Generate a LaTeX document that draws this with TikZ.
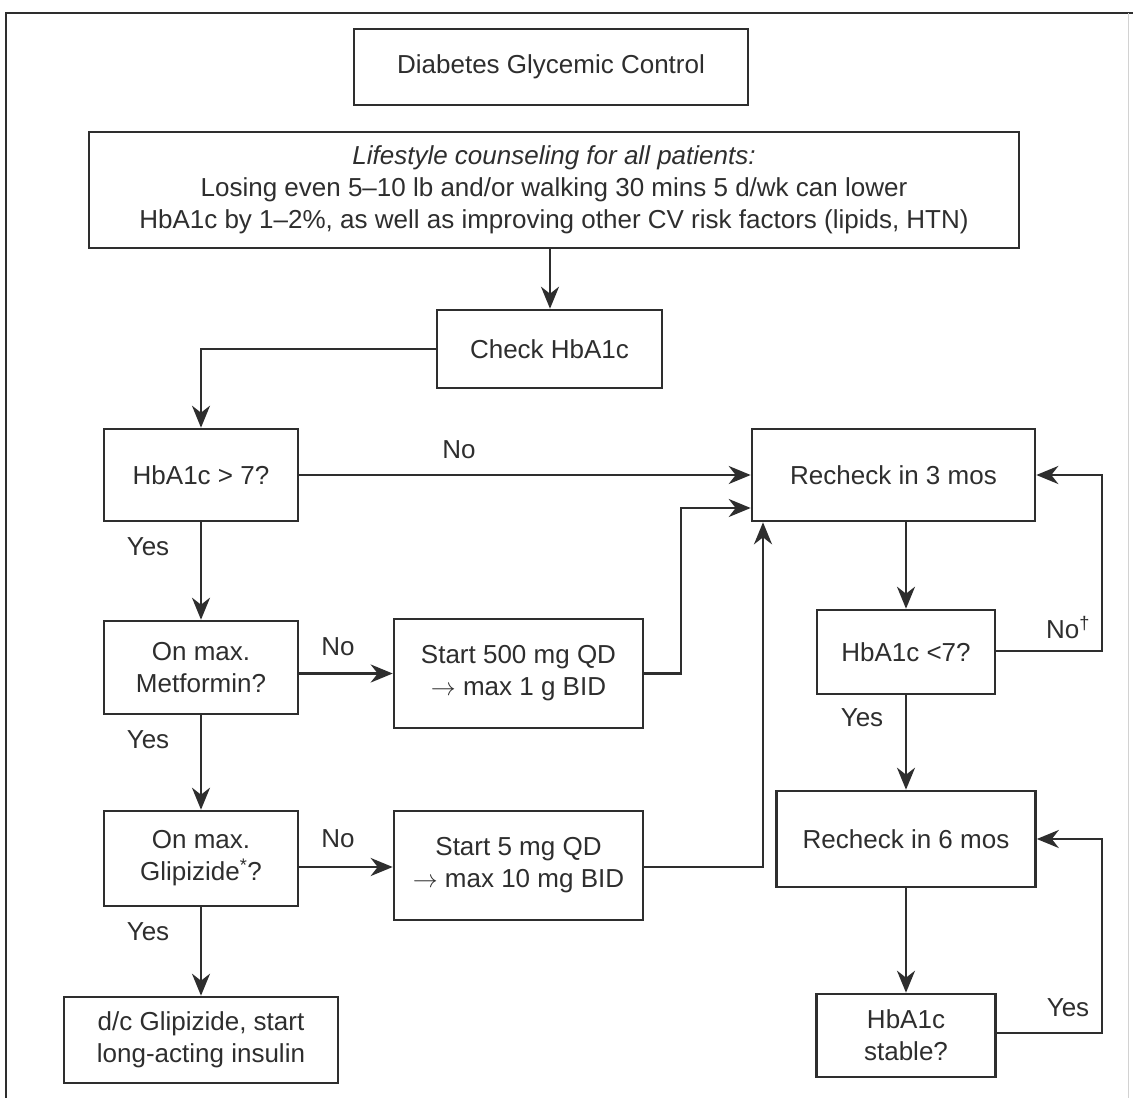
\documentclass[tikz,border=0pt]{standalone}
\usepackage{fontspec}
\setmainfont{Liberation Sans}
\usetikzlibrary{arrows.meta}
\definecolor{ink}{HTML}{2E2E2E}
\begin{document}
\begin{tikzpicture}[x=1pt,y=-1pt,
  every node/.style={font=\fontsize{26}{32}\selectfont, text=ink},
  box/.style={draw=ink, line width=2.6pt, align=center, inner sep=0pt, fill=white},
  arr/.style={draw=ink, line width=2.6pt, line join=miter, -{Stealth[length=22pt,width=18pt,inset=7pt]}},
  lbl/.style={inner sep=0pt}]
\useasboundingbox (0,0) rectangle (1133,1098);
\fill[white] (0,0) rectangle (1133,1098);
% page frame
\draw[ink, line width=2.2pt] (6,1098) -- (6,13) -- (1133,13);
\draw[gray!35, line width=1pt] (1128,13) -- (1128,1098);

% boxes
\node[box, minimum width=394pt, minimum height=76pt] (title) at (551,67) {Diabetes Glycemic Control};
\node[box, minimum width=930pt, minimum height=116pt] (life) at (554,190)
  {\textit{Lifestyle counseling for all patients:}\\
   Losing even 5–10 lb and/or walking 30 mins 5 d/wk can lower\\
   HbA1c by 1–2\%, as well as improving other CV risk factors (lipids, HTN)};
\node[box, minimum width=225pt, minimum height=78pt] (check) at (549.5,349) {Check HbA1c};
\node[box, minimum width=194pt, minimum height=92pt] (q7) at (201,475) {HbA1c > 7?};
\node[box, minimum width=283pt, minimum height=92pt] (re3) at (893.5,475) {Recheck in 3 mos};
\node[box, minimum width=194pt, minimum height=93pt] (met) at (201,667.5) {On max.\\Metformin?};
\node[box, minimum width=249pt, minimum height=109pt] (s500) at (518.5,673.5) {Start 500 mg QD\\$\rightarrow$ max 1 g BID};
\node[box, minimum width=194pt, minimum height=95pt] (gli) at (201,858.5) {On max.\\Glipizide\textsuperscript{*}?};
\node[box, minimum width=249pt, minimum height=109pt] (s5) at (518.5,865.5) {Start 5 mg QD\\$\rightarrow$ max 10 mg BID};
\node[box, minimum width=274pt, minimum height=86pt] (dc) at (201,1040) {d/c Glipizide, start\\long-acting insulin};
\node[box, minimum width=178pt, minimum height=84pt] (lt7) at (906,652) {HbA1c <7?};
\node[box, minimum width=259pt, minimum height=96pt] (re6) at (906,839) {Recheck in 6 mos};
\node[box, minimum width=179pt, minimum height=83pt] (stab) at (906,1035.5) {HbA1c\\stable?};

% bend points
\coordinate (b1) at (681,508);
\coordinate (b2) at (763,867);
\coordinate (b3) at (1102,651);
\coordinate (b4) at (1102,1033);
\coordinate (lc) at (550,248);

% connectors
\draw[arr] (lc) -- (lc |- check.north);
\draw[arr] (check.west) -| (q7.north);
\draw[arr] (q7.east) -- (re3.west);
\draw[arr] (q7.south) -- (met.north);
\draw[arr] (met.east |- s500.west) -- (s500.west);
\draw[arr] (s500.east) -| (b1) -- (b1 -| re3.west);
\draw[arr] (met.south) -- (gli.north);
\draw[arr] (gli.east |- b2) -- (s5.west |- b2);
\draw[arr] (s5.east |- b2) -- (b2) -- (b2 |- re3.south);
\draw[arr] (gli.south) -- (dc.north);
\draw[arr] (lt7.north |- re3.south) -- (lt7.north);
\draw[arr] (lt7.east |- b3) -- (b3) -- (b3 |- re3.east) -- (re3.east);
\draw[arr] (lt7.south) -- (re6.north);
\draw[arr] (re6.south) -- (stab.north);
\draw[arr] (stab.east |- b4) -- (b4) -- (b4 |- re6.east) -- (re6.east);

% branch labels
\node[lbl] (n1) at (459,450) {No};
\node[lbl] (y1) at (148,547) {Yes};
\node[lbl] (n2) at (338,647) {No};
\node[lbl] (y2) at (148,740) {Yes};
\node[lbl] (n3) at (338,839) {No};
\node[lbl] (y3) at (148,932) {Yes};
\node[lbl] (n4) at (1068,628) {No\textsuperscript{†}};
\node[lbl] (y4) at (862,718) {Yes};
\node[lbl] (y5) at (1068,1008) {Yes};
\end{tikzpicture}
\end{document}
